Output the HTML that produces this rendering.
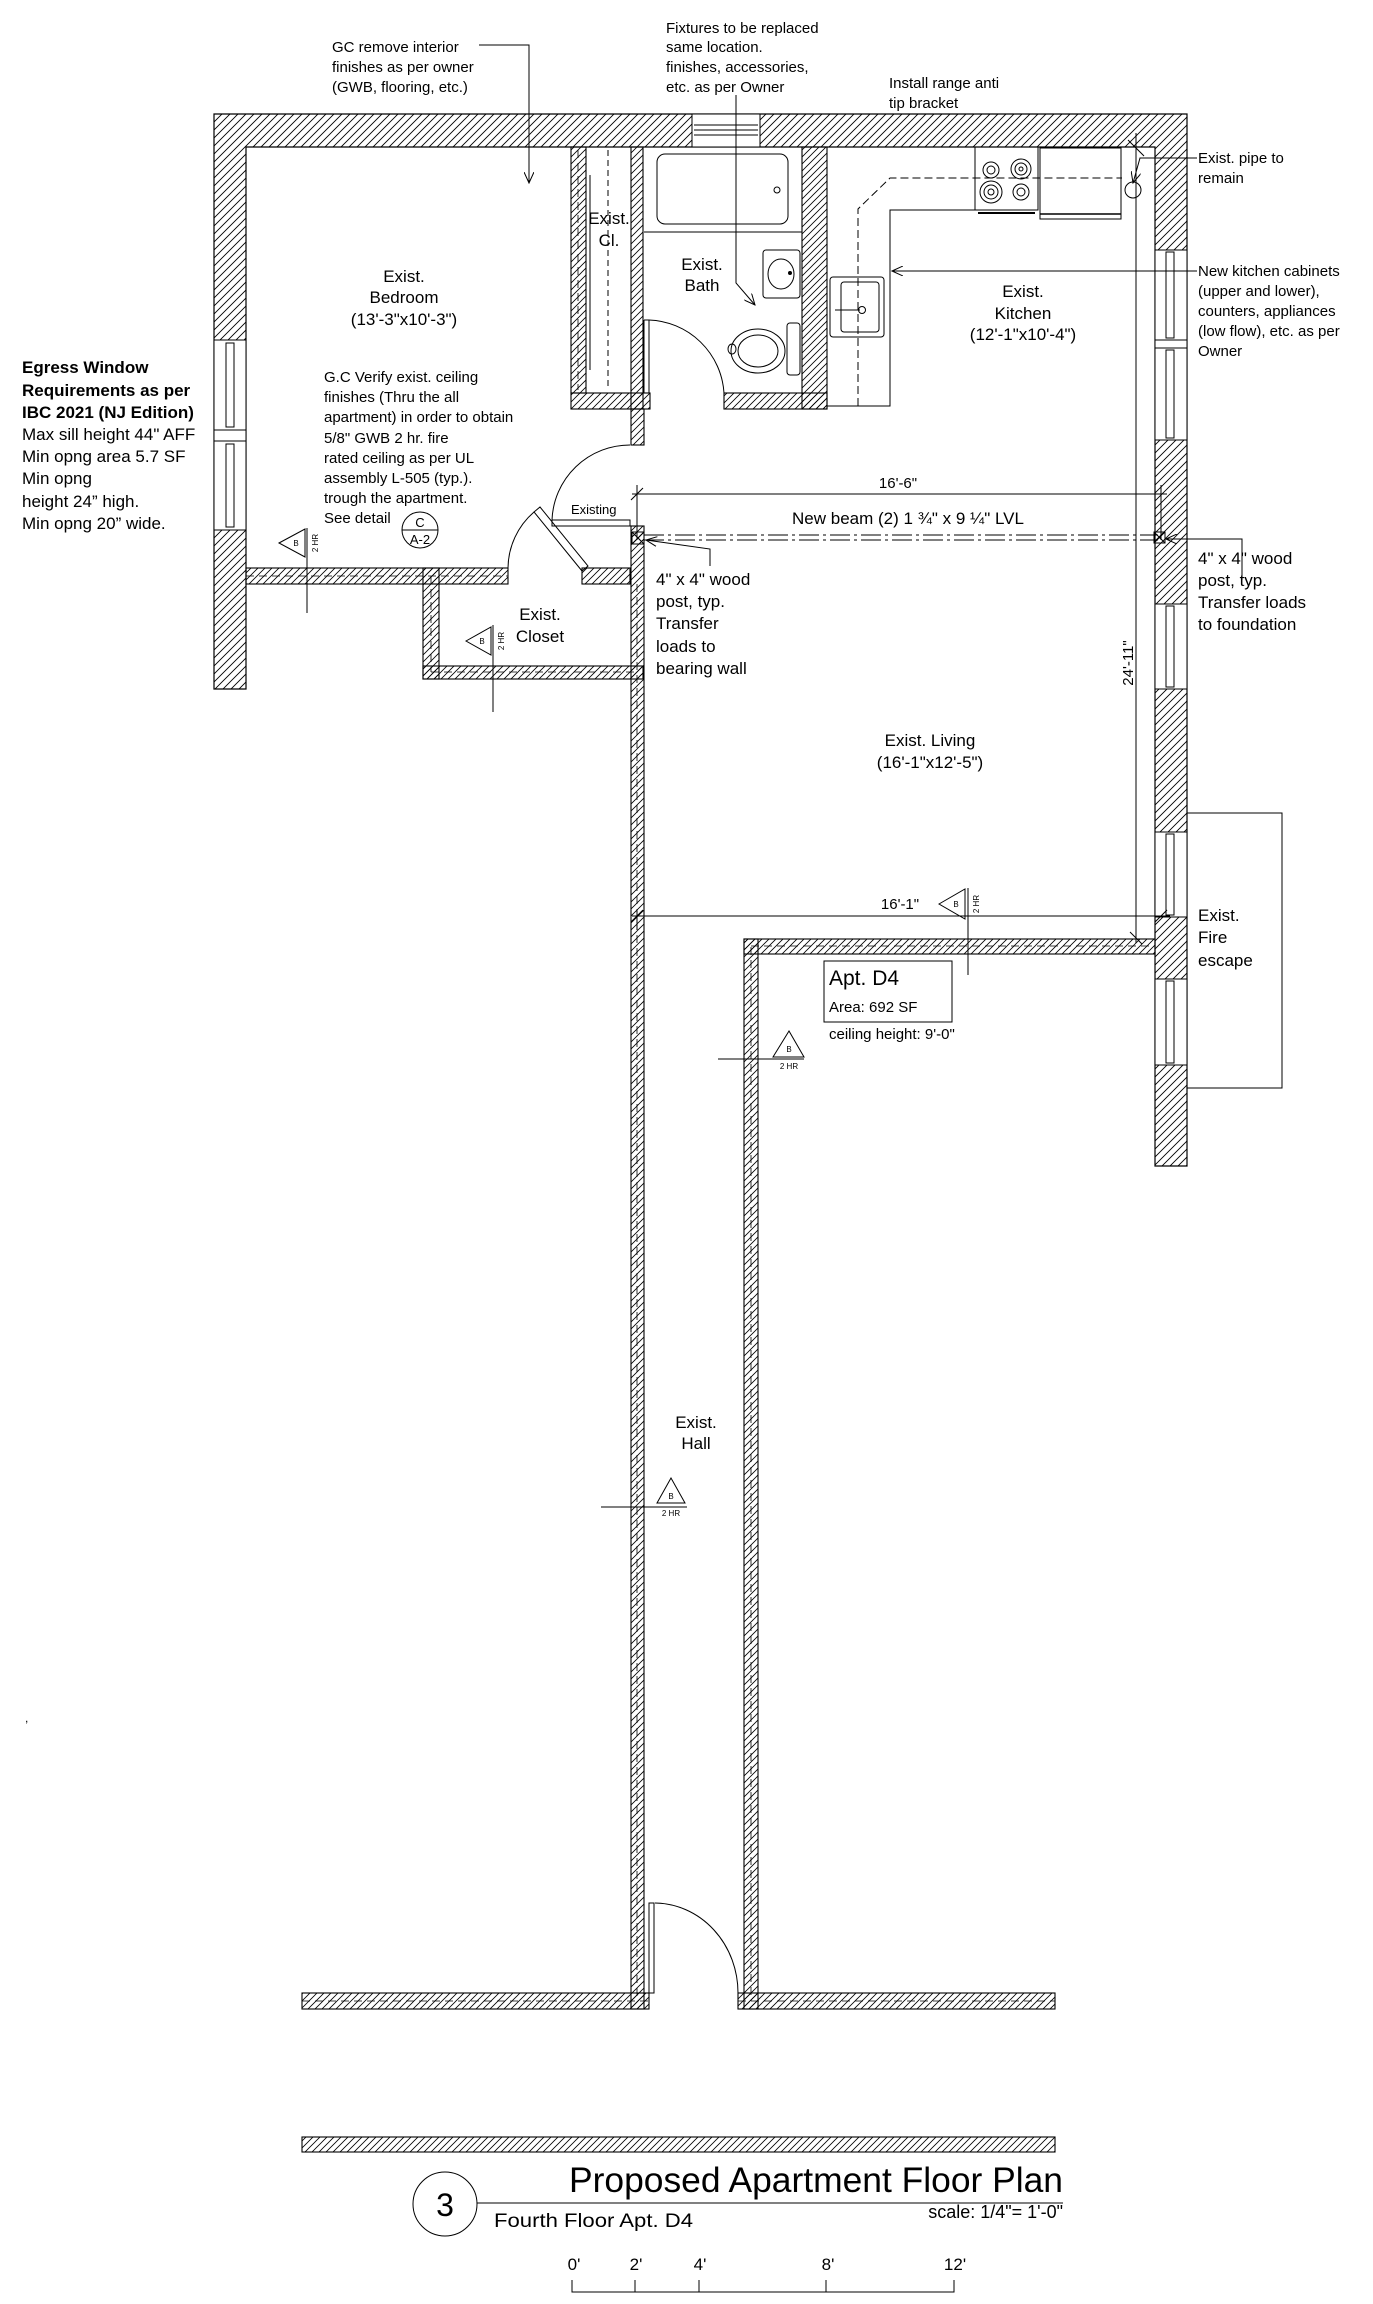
<!DOCTYPE html>
<html><head><meta charset="utf-8">
<style>html,body{margin:0;padding:0;background:#fff}svg{display:block}text{font-family:"Liberation Sans",Arial,sans-serif;fill:#000}</style>
</head><body>
<svg xmlns="http://www.w3.org/2000/svg" width="1373" height="2304" viewBox="0 0 1373 2304">
<defs>
<pattern id="h" patternUnits="userSpaceOnUse" width="8" height="8"><path d="M-2,2 L2,-2 M0,8 L8,0 M6,10 L10,6" stroke="#000" stroke-width="0.9"/></pattern>
<pattern id="t" patternUnits="userSpaceOnUse" width="7" height="7"><path d="M-2,2 L2,-2 M0,7 L7,0 M5,9 L9,5" stroke="#000" stroke-width="0.8"/></pattern>
<marker id="ar" markerWidth="12" markerHeight="10" refX="11" refY="5" orient="auto" markerUnits="userSpaceOnUse"><path d="M0,0 L11,5 L0,10" fill="none" stroke="#000" stroke-width="1"/></marker>
</defs>
<path d="M214,114 L1187,114 L1187,1166 L1155,1166 L1155,147 L246,147 L246,689 L214,689 Z" fill="url(#h)" stroke="#000" stroke-width="1.2"/>
<g stroke="#000" stroke-width="1">
<!-- top window -->
<rect x="692" y="114" width="68" height="33" fill="#fff"/>
<line x1="694" y1="125" x2="758" y2="125"/><line x1="694" y1="130" x2="758" y2="130"/><line x1="694" y1="135" x2="758" y2="135"/>
<!-- left window -->
<rect x="214" y="340" width="32" height="190" fill="#fff"/>
<line x1="214" y1="430" x2="246" y2="430"/><line x1="214" y1="441" x2="246" y2="441"/>
<rect x="226" y="343" width="8" height="84" fill="none"/><rect x="226" y="444" width="8" height="83" fill="none"/>
<!-- right windows -->
<rect x="1155" y="250" width="32" height="90" fill="#fff"/>
<rect x="1155" y="348" width="32" height="92" fill="#fff"/>
<rect x="1155" y="340" width="32" height="8" fill="#fff"/>
<rect x="1166" y="252" width="8" height="86" fill="none"/><rect x="1166" y="350" width="8" height="88" fill="none"/>
<rect x="1155" y="604" width="32" height="85" fill="#fff"/><rect x="1166" y="606" width="8" height="81" fill="none"/>
<rect x="1155" y="832" width="32" height="85" fill="#fff"/><rect x="1166" y="834" width="8" height="81" fill="none"/>
<rect x="1155" y="979" width="32" height="86" fill="#fff"/><rect x="1166" y="981" width="8" height="82" fill="none"/>
<!-- fire escape -->
<rect x="1187" y="813" width="95" height="275" fill="none"/>
</g>
<!-- interior walls -->
<g stroke="#000" stroke-width="1.1" fill="url(#t)">
<rect x="571" y="147" width="15" height="246"/>
<rect x="631" y="147" width="12" height="262"/>
<rect x="802" y="147" width="25" height="262"/>
<rect x="571" y="393" width="79" height="16"/>
<rect x="724" y="393" width="103" height="16"/>
<rect x="631" y="409" width="13" height="36"/>
<rect x="246" y="568" width="262" height="16"/>
<rect x="582" y="568" width="48" height="16"/>
<rect x="423" y="568" width="16" height="111"/>
<rect x="423" y="666" width="220" height="13"/>
<rect x="631" y="526" width="13" height="1483"/>
<rect x="744" y="939" width="14" height="1070"/>
<rect x="744" y="939" width="411" height="15"/>
<rect x="302" y="1993" width="347" height="16"/>
<rect x="738" y="1993" width="317" height="16"/>
<rect x="302" y="2137" width="753" height="15"/>
</g>
<g stroke="#000" stroke-width="0.8" stroke-dasharray="8,5" fill="none">
<line x1="246" y1="576" x2="508" y2="576"/><line x1="431" y1="576" x2="431" y2="672"/><line x1="431" y1="672" x2="637" y2="672"/>
<line x1="637" y1="584" x2="637" y2="2001"/><line x1="751" y1="947" x2="751" y2="2001"/><line x1="751" y1="946" x2="1155" y2="946"/>
<line x1="302" y1="2001" x2="649" y2="2001"/><line x1="738" y1="2001" x2="1055" y2="2001"/>
<line x1="578" y1="150" x2="578" y2="390"/>
</g>
<g stroke="#000" stroke-width="1" fill="none">
<line x1="586" y1="175" x2="586" y2="370"/><line x1="590" y1="175" x2="590" y2="370"/>
<line x1="608" y1="150" x2="608" y2="390" stroke-dasharray="6,4"/>
<line x1="644" y1="232" x2="802" y2="232"/>
<rect x="657" y="154" width="131" height="70" rx="8"/>
<circle cx="777" cy="190" r="3"/>
<rect x="763" y="250" width="37" height="48" rx="3"/>
<ellipse cx="781" cy="274" rx="13" ry="15"/>
<circle cx="790" cy="273" r="1.5" fill="#000"/>
<ellipse cx="758" cy="351" rx="27" ry="22"/>
<ellipse cx="758" cy="351" rx="20" ry="16"/>
<rect x="787" y="323" width="13" height="52" rx="3"/>
<ellipse cx="732" cy="349" rx="4" ry="5"/>
<line x1="644" y1="320" x2="644" y2="393"/><line x1="649" y1="320" x2="649" y2="393"/><line x1="644" y1="320" x2="649" y2="320"/>
<path d="M649,320 A78,78 0 0 1 724,393"/>
<polyline points="827,406 890,406 890,210 975,210"/>
<polyline points="858,406 858,209 890,178 1122,178" stroke-dasharray="8,4"/>
<rect x="830" y="277" width="54" height="60" rx="3"/>
<rect x="841" y="282" width="38" height="50" rx="3"/>
<circle cx="862" cy="310" r="3.5"/>
<line x1="835" y1="310" x2="860" y2="310"/>
<rect x="975" y="147" width="63" height="63"/>
<circle cx="991" cy="170" r="8"/><circle cx="991" cy="170" r="4"/>
<circle cx="1021" cy="169" r="10"/><circle cx="1021" cy="169" r="6"/><circle cx="1021" cy="169" r="2"/>
<circle cx="991" cy="192" r="11"/><circle cx="991" cy="192" r="7"/><circle cx="991" cy="192" r="3"/>
<circle cx="1021" cy="192" r="8"/><circle cx="1021" cy="192" r="4"/>
<line x1="978" y1="213" x2="1035" y2="213" stroke-width="2"/>
<rect x="1040" y="148" width="81" height="71"/>
<line x1="1040" y1="214" x2="1121" y2="214" stroke-width="1.5"/>
<circle cx="1133" cy="190" r="8"/>
<line x1="1136" y1="133" x2="1136" y2="943"/>
<line x1="1128" y1="140" x2="1144" y2="156"/>
<rect x="552" y="520" width="78" height="6"/>
<path d="M552,520 A78,78 0 0 1 630,445"/>
<polygon points="534,512 540,507 588,566 582,571"/>
<path d="M508,568 A75,75 0 0 1 534,512"/>
<rect x="649" y="1903" width="5" height="90"/>
<path d="M655,1903 A84,90 0 0 1 738,1993"/>
</g>
<g stroke="#000" stroke-width="1" fill="none">
<line x1="632" y1="494" x2="1167" y2="494"/>
<line x1="637" y1="485" x2="637" y2="540"/><line x1="631" y1="500" x2="643" y2="488"/>
<line x1="1161" y1="485" x2="1161" y2="540"/>
<line x1="632" y1="916" x2="1170" y2="916"/>
<line x1="637" y1="910" x2="637" y2="930"/><line x1="631" y1="922" x2="643" y2="910"/><line x1="1155" y1="922" x2="1167" y2="910"/>
<line x1="1130" y1="932" x2="1142" y2="944"/>
<line x1="644" y1="535" x2="1158" y2="535" stroke-dasharray="20,4,3,4"/>
<line x1="644" y1="540" x2="1158" y2="540" stroke-dasharray="20,4,3,4"/>
<rect x="632" y="532" width="12" height="12" fill="url(#t)"/>
<line x1="632" y1="532" x2="644" y2="544"/><line x1="644" y1="532" x2="632" y2="544"/>
<rect x="1154" y="532" width="11" height="11"/>
<line x1="1154" y1="532" x2="1165" y2="543"/><line x1="1165" y1="532" x2="1154" y2="543"/>
<polyline points="479,45 529,45 529,183" marker-end="url(#ar)"/>
<polyline points="736,95 736,283 755,305" marker-end="url(#ar)"/>
<polyline points="1197,158 1140,158 1133,183" marker-end="url(#ar)"/>
<polyline points="1197,271 892,271" marker-end="url(#ar)"/>
<polyline points="710,566 710,549 646,540" marker-end="url(#ar)"/>
<polyline points="1242,580 1242,539 1166,539" marker-end="url(#ar)"/>
<polygon points="279,543 305,529 305,557"/><line x1="307" y1="528" x2="307" y2="613"/>
<polygon points="466,641 491,627 491,655"/><line x1="493" y1="625" x2="493" y2="712"/>
<polygon points="939,904 965,889 965,919"/><line x1="968" y1="888" x2="968" y2="975"/>
<polygon points="789,1031 773,1057 804,1057"/><line x1="718" y1="1059" x2="804" y2="1059"/>
<polygon points="671,1478 657,1503 685,1503"/><line x1="601" y1="1507" x2="687" y2="1507"/>
<circle cx="420" cy="530" r="18"/><line x1="402" y1="530" x2="438" y2="530"/>
<rect x="824" y="961" width="128" height="61"/>
<circle cx="445" cy="2204" r="32"/>
<line x1="477" y1="2203" x2="1063" y2="2203"/>
<polyline points="572,2280 572,2292 954,2292 954,2280"/>
<line x1="635" y1="2280" x2="635" y2="2292"/><line x1="699" y1="2280" x2="699" y2="2292"/><line x1="826" y1="2280" x2="826" y2="2292"/>
</g>
<g font-size="15">
<text x="332" y="52">GC remove interior</text>
<text x="332" y="72">finishes as per owner</text>
<text x="332" y="92">(GWB, flooring, etc.)</text>
<text x="666" y="33">Fixtures to be replaced</text>
<text x="666" y="52">same location.</text>
<text x="666" y="72">finishes, accessories,</text>
<text x="666" y="92">etc. as per Owner</text>
<text x="889" y="88">Install range anti</text>
<text x="889" y="108">tip bracket</text>
<text x="1198" y="163">Exist. pipe to</text>
<text x="1198" y="183">remain</text>
<text x="1198" y="276">New kitchen cabinets</text>
<text x="1198" y="296">(upper and lower),</text>
<text x="1198" y="316">counters, appliances</text>
<text x="1198" y="336">(low flow), etc. as per</text>
<text x="1198" y="356">Owner</text>
<text x="324" y="382">G.C Verify exist. ceiling</text>
<text x="324" y="402">finishes (Thru the all</text>
<text x="324" y="422">apartment) in order to obtain</text>
<text x="324" y="443">5/8" GWB 2 hr. fire</text>
<text x="324" y="463">rated ceiling as per UL</text>
<text x="324" y="483">assembly L-505 (typ.).</text>
<text x="324" y="503">trough the apartment.</text>
<text x="324" y="523">See detail</text>
<text x="829" y="1039">ceiling height: 9'-0"</text>
<text x="829" y="1012">Area: 692 SF</text>
</g>
<g font-size="17" text-anchor="middle">
<text x="404" y="282">Exist.</text><text x="404" y="303">Bedroom</text><text x="404" y="325">(13'-3"x10'-3")</text>
<text x="609" y="224">Exist.</text><text x="609" y="246">Cl.</text>
<text x="702" y="270">Exist.</text><text x="702" y="291">Bath</text>
<text x="1023" y="297">Exist.</text><text x="1023" y="319">Kitchen</text><text x="1023" y="340">(12'-1"x10'-4")</text>
<text x="540" y="620">Exist.</text><text x="540" y="642">Closet</text>
<text x="930" y="746">Exist. Living</text><text x="930" y="768">(16'-1"x12'-5")</text>
<text x="696" y="1428">Exist.</text><text x="696" y="1449">Hall</text>
<text x="898" y="488" font-size="15">16'-6"</text>
<text x="900" y="909" font-size="15">16'-1"</text>
<text x="908" y="524">New beam (2) 1 ¾" x 9 ¼" LVL</text>
</g>
<g font-size="17">
<text x="656" y="585">4" x 4" wood</text><text x="656" y="607">post, typ.</text><text x="656" y="629">Transfer</text><text x="656" y="652">loads to</text><text x="656" y="674">bearing wall</text>
<text x="1198" y="564">4" x 4" wood</text><text x="1198" y="586">post, typ.</text><text x="1198" y="608">Transfer  loads</text><text x="1198" y="630">to foundation</text>
<text x="1198" y="921">Exist.</text><text x="1198" y="943">Fire</text><text x="1198" y="966">escape</text>
<text x="22" y="373" font-weight="bold">Egress Window</text>
<text x="22" y="396" font-weight="bold">Requirements as per</text>
<text x="22" y="418" font-weight="bold">IBC 2021 (NJ Edition)</text>
<text x="22" y="440">Max sill height 44" AFF</text>
<text x="22" y="462">Min opng area 5.7 SF</text>
<text x="22" y="484">Min opng</text>
<text x="22" y="507">height 24” high.</text>
<text x="22" y="529">Min opng 20” wide.</text>
<text x="829" y="985" font-size="21">Apt. D4</text>
</g>
<text x="571" y="514" font-size="13">Existing</text>
<text x="420" y="527" font-size="13" text-anchor="middle">C</text>
<text x="420" y="544" font-size="13" text-anchor="middle">A-2</text>
<g font-size="8" text-anchor="middle">
<text x="296" y="546">B</text><text x="482" y="644">B</text><text x="956" y="907">B</text><text x="789" y="1052">B</text><text x="671" y="1499">B</text>
<text x="789" y="1069">2 HR</text><text x="671" y="1516">2 HR</text>
<text transform="translate(318,543) rotate(-90)">2 HR</text>
<text transform="translate(504,641) rotate(-90)">2 HR</text>
<text transform="translate(979,904) rotate(-90)">2 HR</text>
</g>
<text transform="translate(1133,663) rotate(-90)" font-size="15" text-anchor="middle">24'-11"</text>
<text x="25" y="1722" font-size="12">,</text>
<text x="445" y="2216" font-size="32" text-anchor="middle">3</text>
<text x="569" y="2192" font-size="35" textLength="494" lengthAdjust="spacingAndGlyphs">Proposed Apartment Floor Plan</text>
<text x="494" y="2227" font-size="19" textLength="199" lengthAdjust="spacingAndGlyphs">Fourth Floor Apt. D4</text>
<text x="1063" y="2218" font-size="18" text-anchor="end">scale: 1/4"= 1'-0"</text>
<g font-size="17" text-anchor="middle">
<text x="574" y="2270">0'</text><text x="636" y="2270">2'</text><text x="700" y="2270">4'</text><text x="828" y="2270">8'</text><text x="955" y="2270">12'</text>
</g>
</svg>
</body></html>
